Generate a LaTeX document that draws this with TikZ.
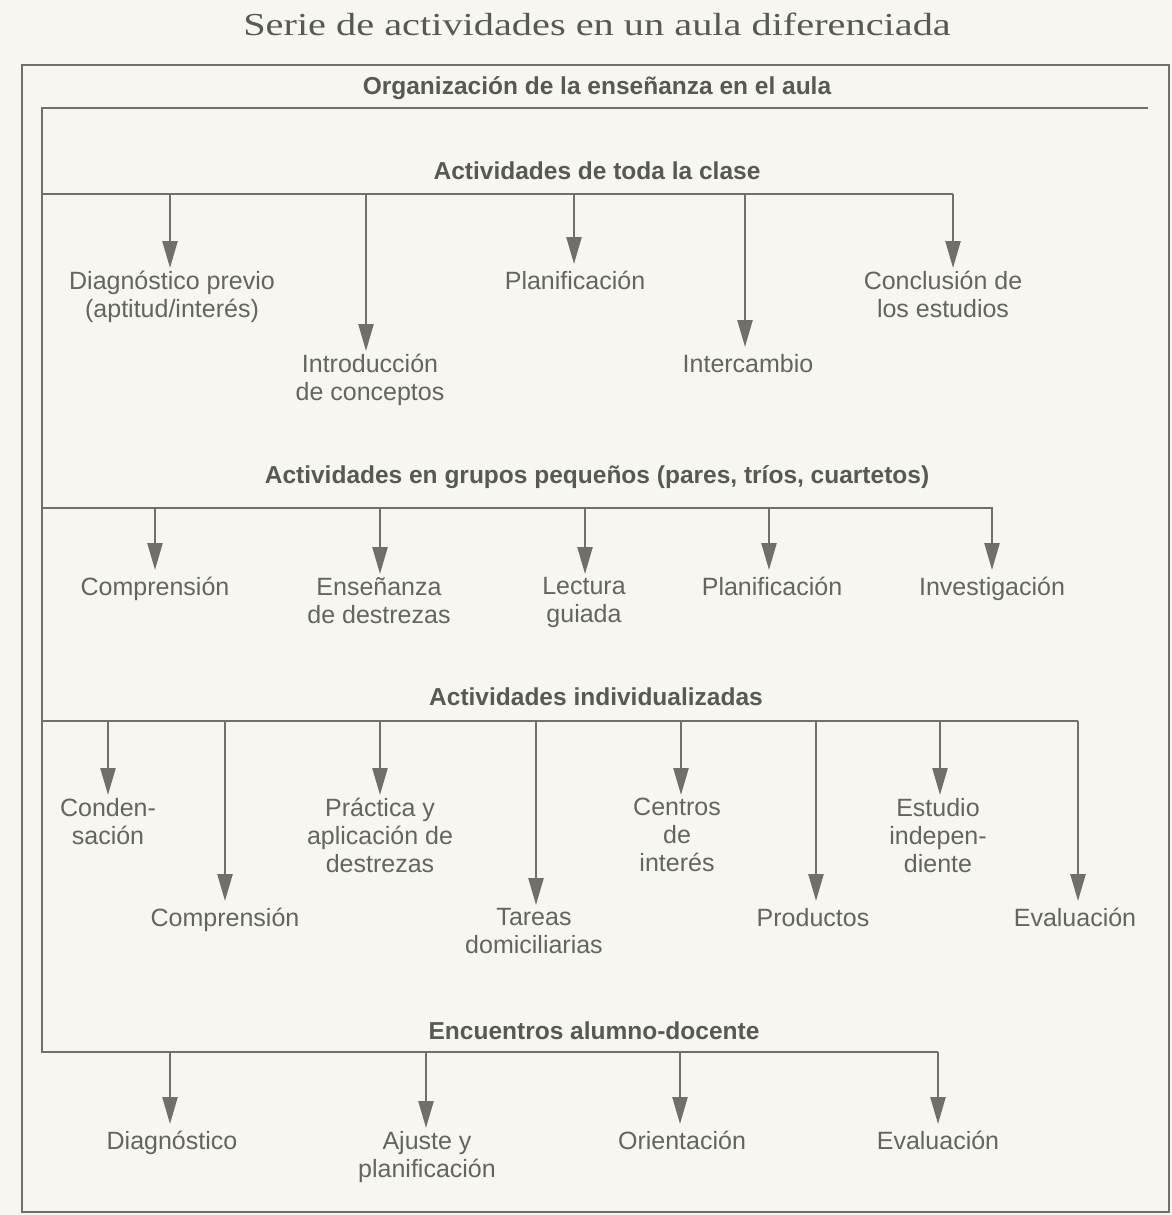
\documentclass[tikz,border=0pt]{standalone}
\usepackage{fontspec}
\setmainfont{Liberation Sans}
\newfontfamily\titlefont[FakeStretch=1.26]{Liberation Serif}
\usetikzlibrary{arrows.meta}
\definecolor{paper}{RGB}{247,246,241}
\definecolor{ink}{RGB}{112,111,106}
\definecolor{inktext}{RGB}{100,100,96}
\definecolor{inkhead}{RGB}{88,88,84}

\begin{document}
\begin{tikzpicture}[x=1pt,y=-1pt,
    ln/.style={draw=ink,line width=2.4pt},
    arr/.style={draw=ink,line width=2.4pt,-{Triangle[length=27pt,width=15pt]}},
    lbl/.style={anchor=north,inner sep=3pt,align=center,text=inktext,font=\fontsize{25}{28}\selectfont,execute at begin node={\rule{0pt}{22pt}}},
    ml/.style={lbl,yshift=-4pt},
    head/.style={inner sep=0pt,text=inkhead,font=\bfseries\fontsize{24.5}{28}\selectfont}]
    \useasboundingbox (0,0) rectangle (1172,1215);
    \fill[paper] (0,0) rectangle (1172,1215);
    \node[text=inkhead,font=\titlefont\fontsize{32}{36}\selectfont] (title) at (597,24) {Serie de actividades en un aula diferenciada};
    \draw[ink,line width=2pt] (22,65) rectangle (1169,1212);
    % headings
    \node[head] (org) at (597,88) {Organización de la enseñanza en el aula};
    \node[head] (toda) at (597,171) {Actividades de toda la clase};
    \node[head] (grup) at (597,477) {Actividades en grupos pequeños (pares, tríos, cuartetos)};
    \node[head] (indiv) at (596,697) {Actividades individualizadas};
    \node[head] (encu) at (594,1031) {Encuentros alumno-docente};
    % spine and branch lines
    \coordinate (s0) at (42,108);
    \coordinate (s1) at (42,194);
    \coordinate (s2) at (42,508);
    \coordinate (s3) at (42,721);
    \coordinate (s4) at (42,1052);
    \draw[ln] (1148,108) -- (s0) -- (s4) -- (938,1052);
    \draw[ln] (s1) -- (953,194);
    \draw[ln] (s2) -- (993,508);
    \draw[ln] (s3) -- (1078,721);
    % whole class
    \node[ml] (diag) at (172,264) {Diagnóstico previo\\(aptitud/interés)};
    \node[ml] (intro) at (370,347) {Introducción\\de conceptos};
    \node[lbl] (plan) at (575,264) {Planificación};
    \node[lbl] (inter) at (748,347) {Intercambio};
    \node[ml] (concl) at (943,264) {Conclusión de\\los estudios};
    % small groups
    \node[lbl] (comp) at (155,570) {Comprensión};
    \node[ml] (ense) at (379,570) {Enseñanza\\de destrezas};
    \node[ml] (lect) at (584,570) {Lectura\\guiada};
    \node[lbl] (plan2) at (772,570) {Planificación};
    \node[lbl] (inv) at (992,570) {Investigación};
    % individual
    \node[ml] (cond) at (108,791) {Conden-\\sación};
    \node[lbl] (compr) at (225,901) {Comprensión};
    \node[ml] (prac) at (380,791) {Práctica y\\aplicación de\\destrezas};
    \node[ml] (tar) at (534,901) {Tareas\\domiciliarias};
    \node[ml] (cent) at (677,791) {Centros\\de\\interés};
    \node[lbl] (prod) at (813,901) {Productos};
    \node[ml] (est) at (938,791) {Estudio\\indepen-\\diente};
    \node[lbl] (eva) at (1075,901) {Evaluación};
    % student-teacher
    \node[lbl] (diag2) at (172,1124) {Diagnóstico};
    \node[ml] (aju) at (427,1124) {Ajuste y\\planificación};
    \node[lbl] (ori) at (682,1124) {Orientación};
    \node[lbl] (eva2) at (938,1124) {Evaluación};
    % arrows
    \foreach \n/\x in {diag/170,intro/366,plan/574,inter/745,concl/953}
      \draw[arr] (\x,194) -- (\x,0 |- \n.north);
    \foreach \n/\x in {comp/155,ense/380,lect/585,plan2/769,inv/992}
      \draw[arr] (\x,508) -- (\x,0 |- \n.north);
    \foreach \n/\x in {cond/108,compr/225,prac/380,tar/536,cent/681,prod/816,est/940,eva/1078}
      \draw[arr] (\x,721) -- (\x,0 |- \n.north);
    \foreach \n/\x in {diag2/170,aju/426,ori/680,eva2/938}
      \draw[arr] (\x,1052) -- (\x,0 |- \n.north);
  \end{tikzpicture}
\end{document}
